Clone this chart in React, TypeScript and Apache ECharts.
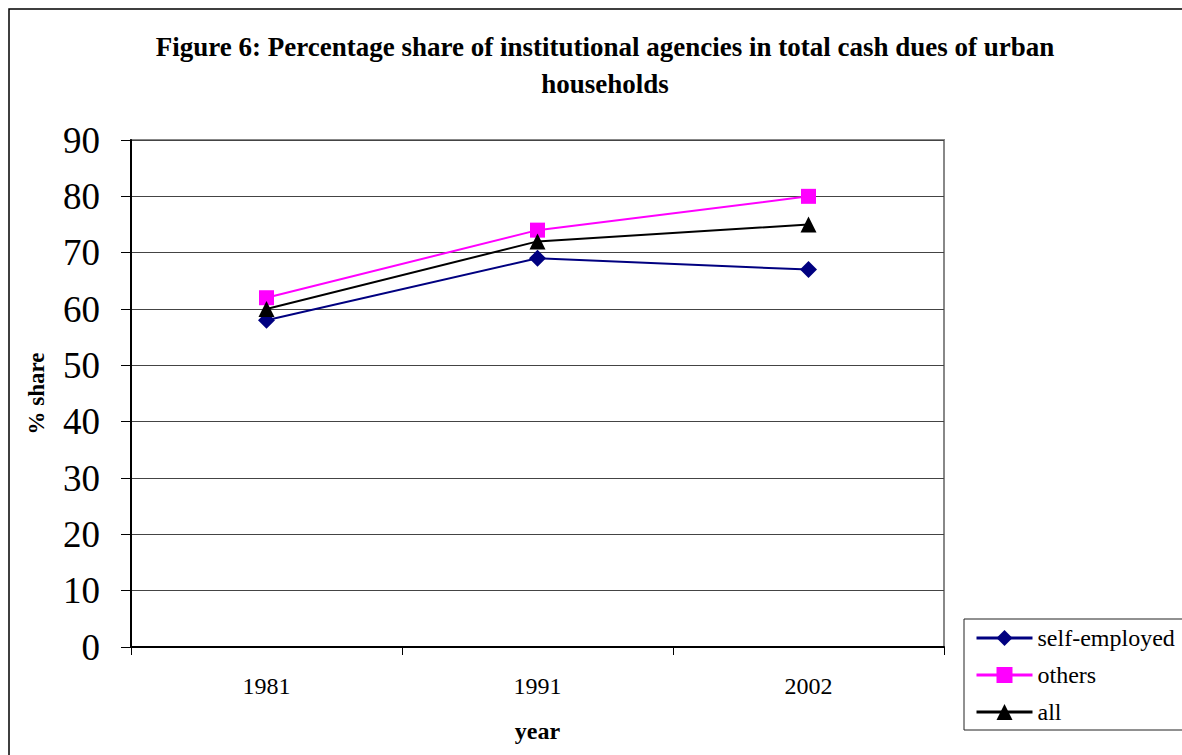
import React, { useEffect, useRef } from "react";
import * as echarts from "echarts";

const years = ["1981", "1991", "2002"];
const selfEmployed = [58, 69, 67];
const others = [62, 74, 80];
const all = [60, 72, 75];

const FONT = "'Liberation Serif', 'Times New Roman', serif";

export default function App() {
  const ref = useRef<HTMLDivElement>(null);
  useEffect(() => {
    if (!ref.current) return;
    const chart = echarts.init(ref.current, undefined, { renderer: "svg" });
    chart.setOption({
      animation: false,
      backgroundColor: "#fff",
      title: {
        text: "Figure 6: Percentage share of institutional agencies in total cash dues of urban\nhouseholds",
        left: 600,
        top: 23,
        textAlign: "center",
        textStyle: {
          fontFamily: FONT,
          fontWeight: "bold",
          fontSize: 27,
          lineHeight: 37,
          color: "#000",
        },
      },
      graphic: [
        {
          type: "rect",
          shape: { x: 9, y: 9, width: 1300, height: 900 },
          style: { fill: "none", stroke: "#000", lineWidth: 1.5 },
          silent: true,
        },
      ],
      grid: {
        left: 131,
        top: 140,
        width: 813,
        height: 507,
        show: true,
        borderColor: "#888",
        borderWidth: 2,
        containLabel: false,
      },
      legend: {
        orient: "vertical",
        left: 964,
        top: 619,
        itemWidth: 56,
        itemHeight: 20,
        itemGap: 13,
        padding: [7, 8, 6, 11],
        borderColor: "#222",
        borderWidth: 1,
        backgroundColor: "#fff",
        lineStyle: { width: 3 },
        textStyle: { fontFamily: FONT, fontSize: 24, lineHeight: 24, color: "#000" },
        data: ["self-employed", "others", "all"],
      },
      xAxis: {
        type: "category",
        data: years,
        boundaryGap: true,
        name: "year",
        nameLocation: "middle",
        nameGap: 72,
        nameTextStyle: { fontFamily: FONT, fontWeight: "bold", fontSize: 24, color: "#000" },
        axisLine: { show: true, lineStyle: { color: "#000", width: 2 } },
        axisTick: { show: true, alignWithLabel: false, length: 8, lineStyle: { color: "#000", width: 1 } },
        axisLabel: { fontFamily: FONT, fontSize: 24, color: "#000", margin: 27 },
        splitLine: { show: false },
      },
      yAxis: {
        type: "value",
        min: 0,
        max: 90,
        interval: 10,
        name: "% share",
        nameLocation: "middle",
        nameGap: 83,
        nameTextStyle: { fontFamily: FONT, fontWeight: "bold", fontSize: 23, color: "#000" },
        axisLine: { show: true, lineStyle: { color: "#000", width: 2 } },
        axisTick: { show: true, length: 10, lineStyle: { color: "#000", width: 1 } },
        axisLabel: { fontFamily: FONT, fontSize: 37, color: "#000", margin: 31 },
        splitLine: { show: true, lineStyle: { color: "#444", width: 1 } },
      },
      series: [
        {
          name: "self-employed",
          type: "line",
          data: selfEmployed,
          symbol: "diamond",
          symbolSize: 17,
          lineStyle: { color: "#000080", width: 2 },
          itemStyle: { color: "#000080" },
        },
        {
          name: "others",
          type: "line",
          data: others,
          symbol: "rect",
          symbolSize: 15,
          lineStyle: { color: "#FF00FF", width: 2 },
          itemStyle: { color: "#FF00FF" },
        },
        {
          name: "all",
          type: "line",
          data: all,
          symbol: "triangle",
          symbolSize: 16,
          lineStyle: { color: "#000", width: 2 },
          itemStyle: { color: "#000" },
        },
      ],
    });
    return () => chart.dispose();
  }, []);
  return (
    <div
      ref={ref}
      style={{ position: "fixed", left: 0, top: 0, width: 1182, height: 755 }}
    />
  );
}
